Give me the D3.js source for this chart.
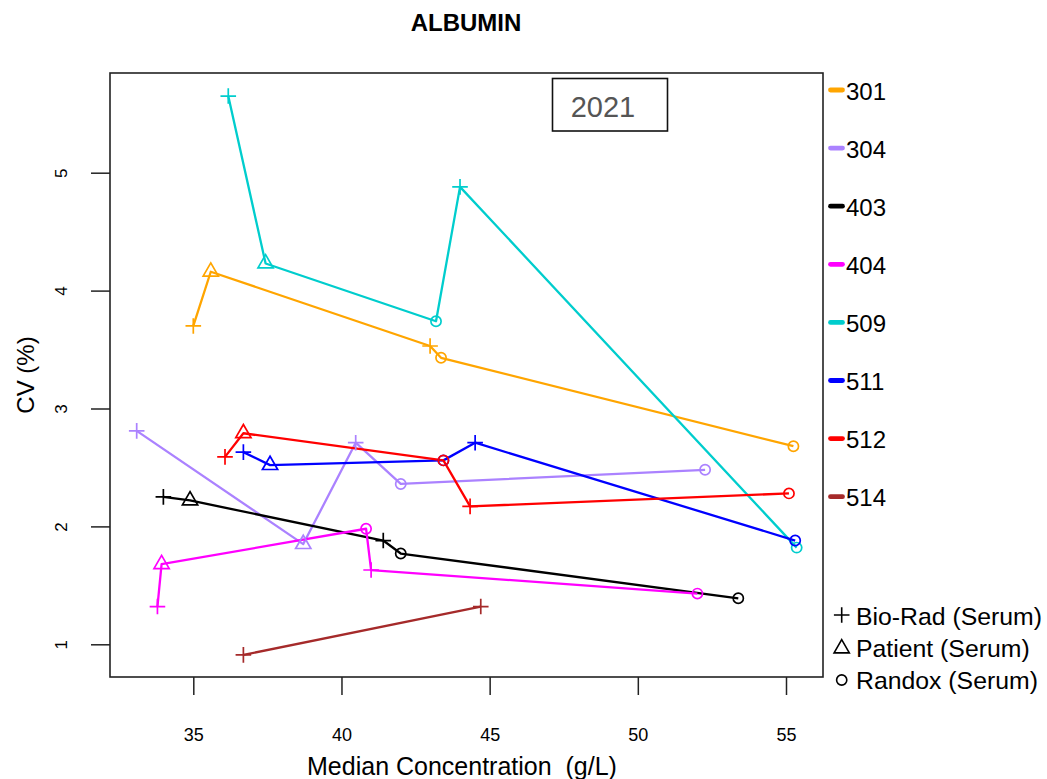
<!DOCTYPE html>
<html>
<head>
<meta charset="utf-8">
<script src="https://cdn.jsdelivr.net/npm/d3@7"></script>
<style>
  html, body { margin: 0; padding: 0; background: #fff; }
  svg { display: block; }
  text { font-family: "Liberation Sans", Arial, Helvetica, sans-serif; }
</style>
</head>
<body>
<svg id="chart" width="1047" height="779"></svg>
<script>
// Albumin: CV (%) against median concentration (g/L), per lab and control material, 2021
const labs = ["301", "304", "403", "404", "509", "511", "512", "514"];
const labColors = ["#FFA500", "#AB82FF", "#000000", "#FF00FF", "#00CDCD", "#0000FF", "#FF0000", "#A52A2A"];
const materials = ["Bio-Rad (Serum)", "Patient (Serum)", "Randox (Serum)"];
const xTicks = [35, 40, 45, 50, 55];
const yTicks = [1, 2, 3, 4, 5];
const year = "2021";

// each point: [material index, median concentration, CV]
const lab301 = [[0, 35.00, 3.70], [1, 35.59, 4.16], [0, 42.99, 3.53], [2, 43.36, 3.43], [2, 55.25, 2.68]];
const lab304 = [[0, 33.09, 2.81], [1, 38.71, 1.85], [0, 40.48, 2.71], [2, 42.00, 2.36], [2, 52.27, 2.48]];
const lab403 = [[0, 33.99, 2.25], [1, 34.89, 2.22], [0, 41.41, 1.88], [2, 42.00, 1.77], [2, 53.39, 1.39]];
const lab404 = [[0, 33.79, 1.32], [1, 33.93, 1.68], [2, 40.83, 1.98], [0, 41.00, 1.63], [2, 52.01, 1.43]];
const lab509 = [[0, 36.18, 5.65], [1, 37.44, 4.23], [2, 43.19, 3.74], [0, 44.00, 4.88], [2, 55.36, 1.82]];
const lab511 = [[0, 36.69, 2.63], [1, 37.59, 2.52], [2, 43.44, 2.56], [0, 44.51, 2.71], [2, 55.31, 1.88]];
const lab512 = [[0, 36.07, 2.59], [1, 36.69, 2.79], [2, 43.44, 2.56], [0, 44.34, 2.17], [2, 55.10, 2.28]];
const lab514 = [[0, 36.69, 0.91], [0, 44.70, 1.32]];
const labSeries = [lab301, lab304, lab403, lab404, lab509, lab511, lab512, lab514];

const svg = d3.select("#chart");
const box = { left: 110, right: 823, top: 73, bottom: 677 };

const x = d3.scaleLinear().domain([35, 55]).range([193.3, 786]);
const y = d3.scaleLinear().domain([1, 5]).range([644.3, 172.7]);

// marker shapes (plus, open triangle, open circle)
const R0 = 5.1;
function markerPath(kind) {
  if (kind === 0) { const a = 7.8; return `M${-a},0H${a}M0,${-a}V${a}`; }
  const r = 8.8, w = r * 0.866;
  return `M0,${-r}L${w},${r / 2}L${-w},${r / 2}Z`;
}
function drawMarker(g, kind, cx, cy, color, sw) {
  if (kind === 2) {
    g.append("circle").attr("cx", cx).attr("cy", cy).attr("r", R0)
      .attr("fill", "none").attr("stroke", color).attr("stroke-width", sw);
  } else {
    g.append("path").attr("d", markerPath(kind))
      .attr("transform", `translate(${cx},${cy})`)
      .attr("fill", "none").attr("stroke", color).attr("stroke-width", sw);
  }
}

// title
svg.append("text").attr("x", 466).attr("y", 31).attr("text-anchor", "middle")
  .attr("font-size", 24).attr("font-weight", "bold").text("ALBUMIN");

// x axis
const gx = svg.append("g").attr("transform", `translate(0,${box.bottom})`)
  .call(d3.axisBottom(x).tickValues(xTicks).tickSize(18).tickPadding(33).tickFormat(d3.format("d")));
gx.select(".domain").remove();
gx.selectAll(".tick line").attr("stroke", "#222").attr("stroke-width", 1.5);
gx.selectAll(".tick text").attr("font-size", 18).attr("fill", "#000")
  .attr("font-family", "Liberation Sans, Arial, sans-serif");

// y axis, labels turned like the axis
const gy = svg.append("g").attr("transform", `translate(${box.left},0)`)
  .call(d3.axisLeft(y).tickValues(yTicks).tickSize(19).tickFormat(d3.format("d")));
gy.select(".domain").remove();
gy.selectAll(".tick line").attr("stroke", "#222").attr("stroke-width", 1.5);
gy.selectAll(".tick text").attr("font-size", 17).attr("fill", "#000")
  .attr("font-family", "Liberation Sans, Arial, sans-serif")
  .attr("x", null).attr("dy", null).attr("text-anchor", "middle")
  .attr("transform", "translate(-43,0) rotate(-90)");

// axis titles
svg.append("text").attr("x", 462).attr("y", 775).attr("text-anchor", "middle")
  .attr("font-size", 25).style("white-space", "pre").text("Median Concentration  (g/L)");
svg.append("text").attr("transform", "translate(34,375) rotate(-90)").attr("text-anchor", "middle")
  .attr("font-size", 24).text("CV (%)");

// series
const plot = svg.append("g");
const line = d3.line().x(d => x(d[1])).y(d => y(d[2]));
labSeries.forEach((pts, i) => {
  const sorted = pts.slice().sort((a, b) => a[1] - b[1]);
  plot.append("path").datum(sorted).attr("d", line)
    .attr("fill", "none").attr("stroke", labColors[i]).attr("stroke-width", 2.3)
    .attr("stroke-linejoin", "round");
});
labSeries.forEach((pts, i) => {
  pts.forEach(p => drawMarker(plot, p[0], x(p[1]), y(p[2]), labColors[i], 1.7));
});

// plot frame
svg.append("rect").attr("x", box.left).attr("y", box.top)
  .attr("width", box.right - box.left).attr("height", box.bottom - box.top)
  .attr("fill", "none").attr("stroke", "#222").attr("stroke-width", 1.6);

// year tag
svg.append("rect").attr("x", 552.5).attr("y", 78.5).attr("width", 115).attr("height", 52.5)
  .attr("fill", "#fff").attr("stroke", "#111").attr("stroke-width", 1.6);
svg.append("text").attr("x", 603).attr("y", 117).attr("text-anchor", "middle")
  .attr("font-size", 29).attr("fill", "#555").text(year);

// lab legend
const legLabs = svg.append("g");
labs.forEach((lab, i) => {
  const ly = 90 + i * 58.1;
  legLabs.append("line").attr("x1", 830.5).attr("x2", 842.5).attr("y1", ly).attr("y2", ly)
    .attr("stroke", labColors[i]).attr("stroke-width", 4.8).attr("stroke-linecap", "round");
  legLabs.append("text").attr("x", 846).attr("y", ly + 9.5).attr("font-size", 24).text(lab);
});

// material legend
const legMat = svg.append("g");
const matRows = [615, 648.5, 680];
const matBase = [624.5, 656.5, 689];
materials.forEach((m, i) => {
  drawMarker(legMat, i, 841.7, matRows[i], "#000", 1.6);
  legMat.append("text").attr("x", 856).attr("y", matBase[i]).attr("font-size", 24.8).text(m);
});
</script>
</body>
</html>
